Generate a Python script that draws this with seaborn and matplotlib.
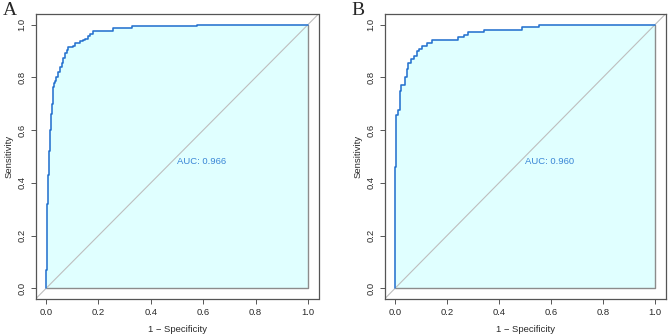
import matplotlib
matplotlib.use("Agg")
import matplotlib.pyplot as plt
import seaborn as sns
import numpy as np
import pandas as pd

# ROC curve A (1 - specificity, sensitivity), step vertices
fpr_a = [0.0, 0.0, 0.002, 0.005, 0.008, 0.011, 0.015, 0.019, 0.022, 0.025, 0.028,
         0.031, 0.034, 0.040, 0.046, 0.053, 0.060, 0.066, 0.073, 0.080, 0.084,
         0.103, 0.110, 0.120, 0.130, 0.140, 0.149, 0.160, 0.168, 0.180, 0.256,
         0.330, 0.576, 1.0]
tpr_a = [0.0, 0.07, 0.20, 0.32, 0.43, 0.52, 0.60, 0.66, 0.70, 0.74, 0.765,
         0.78, 0.785, 0.80, 0.822, 0.84, 0.855, 0.875, 0.894, 0.905, 0.914,
         0.918, 0.93, 0.932, 0.937, 0.942, 0.947, 0.955, 0.963, 0.977, 0.987,
         0.996, 1.0, 1.0]
auc_a = "AUC: 0.966"

# ROC curve B
fpr_b = [0.0, 0.0, 0.002, 0.003, 0.005, 0.012, 0.018, 0.020, 0.023, 0.038,
         0.045, 0.050, 0.060, 0.073, 0.085, 0.092, 0.104, 0.123, 0.142, 0.242,
         0.265, 0.281, 0.342, 0.49, 0.555, 1.0]
tpr_b = [0.0, 0.38, 0.46, 0.64, 0.658, 0.677, 0.715, 0.75, 0.772, 0.803,
         0.83, 0.855, 0.871, 0.882, 0.898, 0.908, 0.920, 0.930, 0.940, 0.952,
         0.962, 0.971, 0.981, 0.99, 1.0, 1.0]
auc_b = "AUC: 0.960"

panel_labels = ["A", "B"]
tick_vals = [0.0, 0.2, 0.4, 0.6, 0.8, 1.0]
tick_labels = ["0.0", "0.2", "0.4", "0.6", "0.8", "1.0"]

sns.set_theme(style="ticks")
plt.rcParams["font.family"] = ["Liberation Sans", "DejaVu Sans"]

fig = plt.figure(figsize=(6.69, 3.35), dpi=100)
W, H = 669, 335
boxes = [(35.5, 14, 283, 285), (384.5, 14, 281, 285)]
curve_col = "#2672cf"
box_col = "#555555"
text_col = "#2a2a2a"

for (fpr, tpr, auc, lab, (bx, by, bw, bh)) in zip(
        [fpr_a, fpr_b], [tpr_a, tpr_b], [auc_a, auc_b], panel_labels, boxes):
    ax = fig.add_axes([bx / W, 1 - (by + bh) / H, bw / W, bh / H])
    df = pd.DataFrame({"fpr": fpr, "tpr": tpr})
    # AUC polygon
    ax.fill_between(df["fpr"], df["tpr"], 0, step="post",
                    facecolor="#E0FFFF", edgecolor="none", zorder=1)
    ax.plot([0, 1, 1], [0, 0, 1], color="#8c8c8c", lw=1.0, zorder=2)
    # diagonal
    ax.axline((0, 0), (1, 1), color="#BEBEBE", lw=0.8, zorder=2)
    sns.lineplot(data=df, x="fpr", y="tpr", sort=False, estimator=None,
                 drawstyle="steps-post", color=curve_col, lw=1.15, ax=ax, zorder=3)
    ax.text(0.5, 0.5, auc, color="#3a86d6", fontsize=6.8, ha="left", va="top",
            zorder=4)
    ax.set_xlim(-0.04, 1.04)
    ax.set_ylim(-0.04, 1.04)
    ax.set_xticks(tick_vals)
    ax.set_xticklabels(tick_labels)
    ax.set_yticks(tick_vals)
    ax.set_yticklabels(tick_labels, rotation=90, va="center")
    ax.tick_params(labelsize=6.8, length=3.5, width=0.7, color=box_col,
                   labelcolor=text_col, pad=3)
    for s in ax.spines.values():
        s.set_color(box_col)
        s.set_linewidth(0.9)
    ax.set_xlabel("1 \u2212 Specificity", fontsize=6.8, color=text_col, labelpad=6)
    ax.set_ylabel("Sensitivity", fontsize=6.8, color=text_col, labelpad=3)
    fig.text((bx - 33) / W, 1 - 2 / H, lab, fontsize=14,
             family=["Liberation Serif", "DejaVu Serif"], ha="left", va="top")

fig.savefig("out.png", dpi=100)
